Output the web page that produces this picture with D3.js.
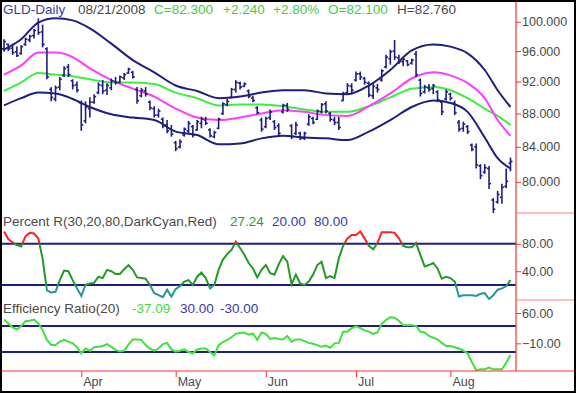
<!DOCTYPE html>
<html>
<head>
<meta charset="utf-8">
<script src="https://cdn.jsdelivr.net/npm/d3@7"></script>
<style>
  body { margin: 0; background: #fff; }
  svg { display: block; font-family: 'Liberation Sans', Arial, sans-serif; }
</style>
</head>
<body>
<div id="chart"></div>
<script>
// ---- data ----
// trading days of 2008, per month
const marDays = [5,6,7,10,11,12,13,14,17,18,19,20,24,25,26,27,28,31];
const aprDays = [1,2,3,4,7,8,9,10,11,14,15,16,17,18,21,22,23,24,25,28,29,30];
const mayDays = [1,2,5,6,7,8,9,12,13,14,15,16,19,20,21,22,23,27,28,29,30];
const junDays = [2,3,4,5,6,9,10,11,12,13,16,17,18,19,20,23,24,25,26,27,30];
const julDays = [1,2,3,7,8,9,10,11,14,15,16,17,18,21,22,23,24,25,28,29,30,31];
const augDays = [1,4,5,6,7,8,11,12,13,14,15,18,19,20,21];
const monthDays = [[2, marDays], [3, aprDays], [4, mayDays], [5, junDays], [6, julDays], [7, augDays]];
const dates = monthDays.flatMap(([m, days]) => days.map(d => new Date(2008, m, d)));

// daily bars
const high = [97.6,97.0,97.0,96.6,96.8,97.8,98.2,99.0,100.5,99.6,96.5,91.3,91.5,92.6,94.0,94.3,92.3,92.0,
  89.6,89.5,90.0,90.4,91.9,92.2,91.8,92.4,92.6,92.8,93.1,93.8,93.4,91.3,91.2,91.3,89.6,88.9,88.6,87.5,87.2,86.6,
  84.7,84.9,86.3,87.1,86.6,87.2,87.6,87.6,86.2,85.9,87.5,89.4,89.8,91.2,92.2,92.0,91.9,91.0,90.2,88.9,87.5,
  87.6,88.5,87.2,86.8,89.2,89.3,86.7,87.0,85.8,85.8,87.9,87.6,88.5,89.3,89.5,88.2,87.6,87.6,90.7,91.8,91.8,
  93.3,93.3,92.6,92.0,91.8,91.7,93.6,95.5,96.2,97.5,95.5,95.2,94.8,95.0,96.0,92.4,91.6,91.7,91.7,90.9,89.6,91.0,
  90.6,89.6,87.2,87.0,86.6,84.4,84.4,82.0,82.0,81.8,78.2,79.0,79.8,81.5,82.76];
const low = [95.9,96.0,95.5,95.2,95.5,96.7,97.2,97.7,98.2,96.5,92.3,89.5,89.5,90.9,92.6,92.6,91.0,90.6,
  85.9,86.8,87.5,89.2,90.4,90.4,90.3,90.9,91.6,91.8,92.2,93.0,92.4,89.2,90.0,90.1,88.4,87.5,87.5,86.2,85.6,85.2,
  83.5,83.8,85.2,85.5,85.1,85.9,86.2,86.6,85.1,85.0,86.1,87.8,88.9,89.9,90.6,91.0,91.3,89.9,89.4,87.9,85.8,
  86.2,87.2,86.0,85.3,88.0,88.2,84.9,85.4,84.8,84.8,86.5,86.7,87.2,88.0,88.0,87.0,86.6,86.0,89.5,90.3,90.4,
  92.0,92.2,91.6,90.0,89.8,90.6,92.0,93.7,94.2,94.8,94.3,94.0,94.0,94.2,92.6,90.1,90.5,90.7,90.4,89.4,87.8,89.6,
  89.6,87.8,85.8,85.8,85.5,83.5,81.5,80.3,80.9,79.2,76.6,77.6,77.6,79.3,81.2];
const open = [96.3,96.9,96.4,95.9,95.7,96.9,97.5,98.1,99.8,98.6,96.3,91.0,89.8,91.3,92.8,93.9,92.1,91.6,
  89.3,87.1,88.6,89.4,90.6,91.5,90.9,91.2,92.0,91.9,92.5,93.1,93.2,91.0,90.2,90.8,89.4,88.6,87.8,87.3,86.6,86.1,
  84.5,84.0,85.4,85.9,86.4,86.0,86.8,87.2,86.0,85.2,86.2,88.0,89.1,90.0,91.0,91.8,91.4,90.8,89.9,88.7,87.2,
  86.4,87.5,87.0,86.5,88.2,89.0,86.5,85.6,85.6,85.0,86.7,87.4,87.3,88.2,89.2,88.0,87.2,86.9,89.6,90.6,91.4,
  92.2,93.0,92.4,91.8,90.2,91.2,92.2,93.9,95.0,96.0,95.1,94.6,94.7,94.4,95.6,92.2,90.7,91.2,91.1,90.7,89.4,89.8,
  90.4,89.3,86.9,86.2,86.4,84.2,84.0,81.8,81.1,81.5,78.0,77.8,78.3,79.5,82.1];
const close = [97.3,96.3,95.8,95.4,96.6,97.6,98.0,98.8,98.5,96.9,92.6,90.0,91.2,92.3,93.7,92.9,91.5,90.9,
  86.6,88.8,89.4,90.1,91.6,90.8,91.5,92.1,91.9,92.6,92.9,93.6,92.6,89.6,90.9,90.4,88.7,87.8,88.3,86.5,85.9,85.5,
  83.8,84.6,86.1,86.8,85.4,87.0,87.3,86.8,85.3,85.7,87.3,89.2,89.5,91.0,91.9,91.3,91.7,90.1,89.6,88.1,86.1,
  87.4,88.2,86.3,85.6,89.0,88.5,85.2,86.6,85.0,85.6,87.6,86.9,88.3,89.1,88.3,87.3,86.9,86.3,90.5,91.5,90.9,
  93.0,92.6,91.9,90.3,91.4,91.0,93.4,95.2,95.9,95.2,94.6,94.9,94.2,94.8,92.9,90.5,91.3,91.0,91.5,89.7,88.2,90.7,
  89.9,88.1,86.1,86.7,85.8,83.7,81.9,80.7,81.6,79.8,77.0,78.6,79.4,80.06,82.3];

// overlay lines, read at these bar positions
const lineIdx = [0,4,8,12,16,20,25,30,35,40,45,50,55,60,65,70,75,80,85,90,95,100,104,108,112,115,118];
const upperBand = [96.2,97.6,99.9,100.5,100.2,99.1,97.0,94.8,93.2,91.5,90.8,89.9,90.1,90.6,90.9,90.9,90.5,
  90.4,91.5,93.5,96.1,96.9,96.6,95.7,93.5,90.9,88.8];
const magentaAvg = [92.9,94.1,95.8,95.8,95.2,93.7,92.2,91.1,90.1,88.6,87.5,87.2,87.5,88.0,88.4,88.2,87.8,
  87.7,88.9,90.5,92.4,93.2,92.8,91.8,89.9,87.2,85.3];
const greenAvg = [90.8,91.9,93.1,92.9,92.7,92.3,91.9,91.9,91.7,90.6,89.9,89.0,89.1,89.1,88.9,88.5,88.2,
  88.2,88.9,90.0,91.1,91.3,90.9,89.9,88.6,87.7,86.6];
const lowerBand = [89.0,89.9,90.6,90.5,89.8,88.8,87.9,87.5,87.2,85.8,85.4,84.3,84.4,85.0,85.3,85.1,85.0,
  84.8,85.8,87.2,88.8,89.6,89.3,88.2,85.1,82.7,81.5];

// Percent R(30) daily values
const pctR = [98,87,82,78,76,91,96,95,88,58,12,9,10,27,41,40,27,15,4,20,22,23,32,30,42,40,36,36,43,49,
  42,31,30,29,20,8,5,2,13,3,14,18,25,27,20,32,38,30,15,20,42,57,65,71,83,74,64,52,44,31,42,49,37,35,50,
  62,54,21,35,22,20,25,35,49,54,30,33,30,59,77,88,93,93,98,88,77,72,81,97,97,97,96,88,77,75,75,81,64,47,
  49,52,44,29,32,30,25,3,5,5,5,4,7,8,-0.5,5,13,15,18,27.24];

// Efficiency Ratio(20) daily values
const effRatio = [45,36,27,22,30,41,42,45,36,21,-2,-14,-14,-6,-2,-6,-10,-19,-33,-22,-27,-19,-18,-16,-12,
  -18,-25,-29,-27,-13,-1,-1,-2,-14,-22,-27,-22,-12,-9,-24,-29,-27,-24,-30,-33,-24,-22,-22,-30,-38,-14,-7,-2,
  4,12,14,15,10,13,-2,15,12,0,2,0,-1,7,-6,-1,-1,-5,-9,-11,-14,-18,-15,-20,-10,-9,17,17,25,29,25,20,17,12,15,
  35,44,50,49,42,32,32,32,30,17,15,7,3,-1,-9,-16,-16,-19,-22,-27,-33,-53,-72,-70,-70,-66,-70,-70,-70,-55,-37.09];

// axis ticks and levels
const priceTicks = [78,80,82,84,86,88,90,92,94,96,98,100];
const priceLabels = [80,84,88,92,96,100];
const pctRTicks = [0,20,40,60,80,100];
const pctRLabels = [40,80];
const pctRLevels = [20,80];
const effTicks = [-45,-10,25,60];
const effLabels = [-10,60];
const effLevels = [30,-30];
const monthLabels = ['Apr','May','Jun','Jul','Aug'];

// header texts
const titleItems = ['GLD-Daily','08/21/2008','C=82.300','+2.240','+2.80%','O=82.100','H=82.760'];
const pctRItems = ['Percent R(30,20,80,DarkCyan,Red)','27.24','20.00','80.00'];
const effItems = ['Efficiency Ratio(20)','-37.09','30.00','-30.00'];

// ---- layout ----
const W = 576, H = 393;
const axisX = 516;
const navy = '#1e1e80', red = '#ff3030', textGray = '#4a4a4a', levelBlue = '#3a3aa6';

const svg = d3.select('#chart').append('svg')
  .attr('width', W).attr('height', H);

const x = d3.scalePoint().domain(d3.range(dates.length)).range([4, 510.5]);

const yPrice = d3.scaleLog().domain([76.6, 102.8]).range([213, 2]);
const yPct = d3.scaleLinear().domain([-2, 125]).range([300, 213]);
const yEff = d3.scaleLinear().domain([-73.8, 90]).range([371, 300]);

// clip regions for each panel
const defs = svg.append('defs');
function clip(id, y0, y1){
  defs.append('clipPath').attr('id', id)
    .append('rect').attr('x', 2).attr('y', y0).attr('width', axisX - 2).attr('height', y1 - y0);
  return `url(#${id})`;
}

// ---- price panel ----
const pricePanel = svg.append('g').attr('clip-path', clip('clipPrice', 2, 213));

function overlay(values, color){
  pricePanel.append('path')
    .datum(values)
    .attr('fill', 'none')
    .attr('stroke', color)
    .attr('stroke-width', 2)
    .attr('d', d3.line()
      .x((d, i) => x(lineIdx[i]))
      .y(d => yPrice(d))
      .curve(d3.curveMonotoneX));
}
overlay(greenAvg, '#3cef3c');
overlay(magentaAvg, '#ff3cff');
overlay(upperBand, navy);
overlay(lowerBand, navy);

const bars = pricePanel.append('g')
  .attr('stroke', navy)
  .attr('stroke-width', 1.6)
  .selectAll('g')
  .data(d3.range(dates.length))
  .join('g');
bars.append('line')
  .attr('x1', i => x(i)).attr('x2', i => x(i))
  .attr('y1', i => yPrice(high[i])).attr('y2', i => yPrice(low[i]));
bars.append('line')
  .attr('x1', i => x(i) - 2).attr('x2', i => x(i))
  .attr('y1', i => yPrice(open[i])).attr('y2', i => yPrice(open[i]));
bars.append('line')
  .attr('x1', i => x(i)).attr('x2', i => x(i) + 2)
  .attr('y1', i => yPrice(close[i])).attr('y2', i => yPrice(close[i]));

// ---- indicator panels ----
function levels(y, vals){
  svg.append('g').selectAll('line')
    .data(vals)
    .join('line')
    .attr('x1', 2).attr('x2', axisX)
    .attr('y1', d => y(d)).attr('y2', d => y(d))
    .attr('stroke', navy).attr('stroke-width', 2);
}

levels(yPct, pctRLevels);
const pctLine = d3.line().x((d, i) => x(i)).y(d => yPct(d));
// colour by zone: red above 80, dark cyan below 20
[['clipRTop', 213, yPct(80), '#ff2020'],
 ['clipRMid', yPct(80), yPct(20), '#239a23'],
 ['clipRBot', yPct(20), 300, '#2a9595']].forEach(([id, y0, y1, color]) => {
  svg.append('path')
    .datum(pctR)
    .attr('clip-path', clip(id, y0, y1))
    .attr('fill', 'none')
    .attr('stroke', color)
    .attr('stroke-width', 2)
    .attr('d', pctLine);
});

levels(yEff, effLevels);
svg.append('path')
  .datum(effRatio)
  .attr('clip-path', clip('clipEff', 300, 371))
  .attr('fill', 'none')
  .attr('stroke', '#3fe03f')
  .attr('stroke-width', 2)
  .attr('d', d3.line().x((d, i) => x(i)).y(d => yEff(d)));

// ---- axes ----
function rightAxis(y, ticks, labels, fmt){
  const g = svg.append('g').attr('transform', `translate(${axisX},0)`);
  g.call(d3.axisRight(y).tickValues(ticks.filter(t => !labels.includes(t))).tickSize(3).tickFormat(''));
  g.call(d3.axisRight(y).tickValues(labels).tickSize(5).tickPadding(1).tickFormat(fmt));
  g.selectAll('.domain').remove();
  g.selectAll('line').attr('stroke', red);
  g.selectAll('text').attr('fill', textGray).style('font-size', '12.5px')
    .style('font-family', "'Liberation Sans', Arial, sans-serif");
}
rightAxis(yPrice, priceTicks, priceLabels, d3.format('.3f'));
rightAxis(yPct, pctRTicks, pctRLabels, d3.format('.2f'));
rightAxis(yEff, effTicks, effLabels, d3.format('.2f'));

// vertical axis line and separators
svg.append('line').attr('x1', axisX).attr('x2', axisX).attr('y1', 2).attr('y2', 371)
  .attr('stroke', red).attr('stroke-width', 1.2);
svg.append('g').selectAll('line')
  .data([213, 300])
  .join('line')
  .attr('x1', axisX).attr('x2', W)
  .attr('y1', d => d).attr('y2', d => d)
  .attr('stroke', '#ff8080').attr('stroke-width', 1.2);

// bottom time axis: weekly ticks, longer at month starts
const weekStarts = d3.range(1, dates.length).filter(i => dates[i].getDay() < dates[i - 1].getDay());
const monthStarts = d3.range(1, dates.length).filter(i => dates[i].getMonth() !== dates[i - 1].getMonth());
const bottom = svg.append('g').attr('transform', 'translate(0,371)');
bottom.call(d3.axisBottom(x).tickValues(weekStarts.filter(i => !monthStarts.includes(i))).tickSize(3).tickFormat(''));
bottom.call(d3.axisBottom(x).tickValues(monthStarts).tickSize(6).tickFormat(''));
bottom.selectAll('.domain').remove();
bottom.selectAll('line').attr('stroke', red);
svg.append('line').attr('x1', 0).attr('x2', W).attr('y1', 371).attr('y2', 371)
  .attr('stroke', red).attr('stroke-width', 1.2);
svg.append('g').selectAll('text')
  .data(monthStarts)
  .join('text')
  .attr('x', i => x(i) + 2)
  .attr('y', 386)
  .attr('fill', textGray)
  .style('font-size', '12.5px')
  .text((d, k) => monthLabels[k]);

// ---- header texts ----
function header(items, xs, colors, y){
  svg.append('g').selectAll('text')
    .data(items)
    .join('text')
    .attr('x', (d, i) => xs[i])
    .attr('y', y)
    .attr('fill', (d, i) => colors[i])
    .style('font-size', '13.5px')
    .text(d => d);
}
const green = '#44cc44';
header(titleItems, [3, 78, 154, 223, 273, 328, 397],
  ['#3c3ca4', textGray, green, green, green, green, textGray], 14);
header(pctRItems, [3, 230, 272, 314], [textGray, '#2e9a2e', levelBlue, levelBlue], 226);
header(effItems, [3, 132, 180, 220], [textGray, '#44d844', levelBlue, levelBlue], 313);

// outer frame
svg.append('rect').attr('x', 1).attr('y', 1).attr('width', W - 2).attr('height', H - 2)
  .attr('fill', 'none').attr('stroke', '#000').attr('stroke-width', 2);
</script>
</body>
</html>
